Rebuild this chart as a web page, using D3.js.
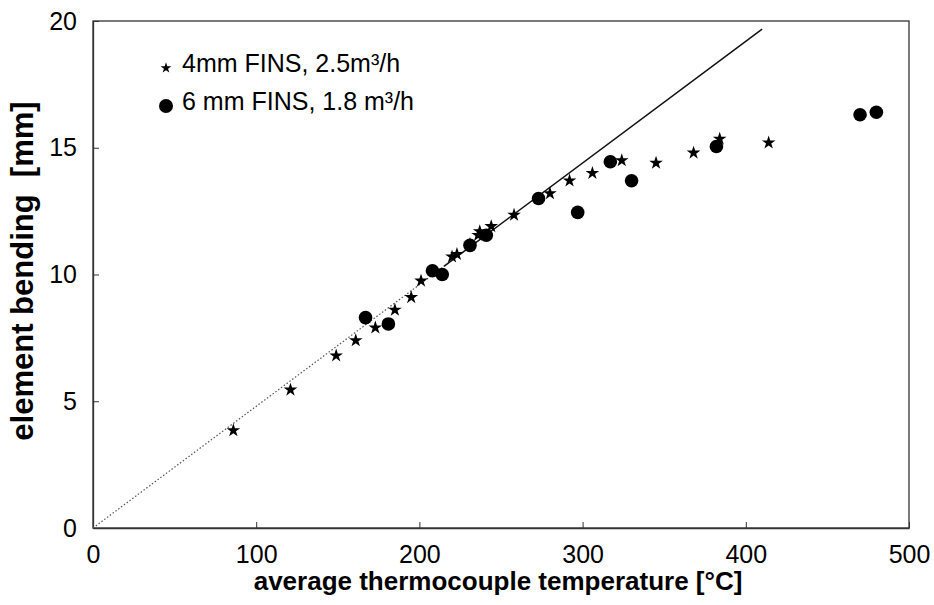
<!DOCTYPE html>
<html>
<head>
<meta charset="utf-8">
<script src="https://cdn.jsdelivr.net/npm/d3@7"></script>
<style>
    body { margin: 0; background: #fff; }
    svg text { font-family: "Liberation Sans", Arial, sans-serif; fill: #000; }
</style>
</head>
<body>
<div id="chart"></div>
<script>
// 4mm fins, 2.5 m3/h  (stars)
var fins4Temp = [86, 121, 149, 161, 173, 185, 195, 201, 220, 223, 231, 236, 237, 244, 258, 280, 292, 306, 324, 345, 368, 384, 414];
var fins4Bend = [3.85, 5.45, 6.8, 7.4, 7.9, 8.6, 9.1, 9.75, 10.7, 10.8, 11.2, 11.55, 11.7, 11.9, 12.35, 13.2, 13.7, 14.0, 14.5, 14.4, 14.8, 15.35, 15.2];

// 6mm fins, 1.8 m3/h  (circles)
var fins6Temp = [167, 181, 208, 214, 231, 241, 273, 297, 317, 330, 382, 470, 480];
var fins6Bend = [8.3, 8.05, 10.15, 10.0, 11.15, 11.55, 13.0, 12.45, 14.45, 13.7, 15.05, 16.3, 16.4];

// reference line: bending = slope * temperature
var lineSlope = 0.048;
var lineDottedEnd = 215;
var lineEnd = 410;

var xTicks = [0, 100, 200, 300, 400, 500];
var yTicks = [0, 5, 10, 15, 20];

var legendLabels = ["4mm FINS, 2.5m\u00b3/h", "6 mm FINS, 1.8 m\u00b3/h"];

var width = 934, height = 605;
var margin = { left: 93, right: 25, top: 21, bottom: 77 };

var svg = d3.select("#chart")
    .append("svg")
    .attr("width", width)
    .attr("height", height);

var xScale = d3.scaleLinear().domain([0, 500]).range([margin.left, width - margin.right]);
var yScale = d3.scaleLinear().domain([0, 20]).range([height - margin.bottom, margin.top]);

// frame
svg.append("rect")
    .attr("x", xScale(0))
    .attr("y", yScale(20))
    .attr("width", xScale(500) - xScale(0))
    .attr("height", yScale(0) - yScale(20))
    .attr("fill", "none")
    .attr("stroke", "#333")
    .attr("stroke-width", 1.3);

// X axis, ticks pointing inward
var xAxis = svg.append("g")
    .attr("transform", "translate(0," + yScale(0) + ")")
    .call(d3.axisBottom(xScale).tickValues(xTicks).tickSizeInner(-6).tickSizeOuter(0).tickPadding(17));
xAxis.select(".domain").attr("stroke", "#333").attr("stroke-width", 1.3);
xAxis.selectAll("line").attr("stroke", "#333");
xAxis.selectAll("text").style("font-size", "25px");

// Y axis
var yAxis = svg.append("g")
    .attr("transform", "translate(" + xScale(0) + ",0)")
    .call(d3.axisLeft(yScale).tickValues(yTicks).tickSizeInner(-6).tickSizeOuter(0).tickPadding(16));
yAxis.select(".domain").attr("stroke", "#333").attr("stroke-width", 1.3);
yAxis.selectAll("line").attr("stroke", "#333");
yAxis.selectAll("text").style("font-size", "25px");

// axis titles
svg.append("text")
    .attr("x", 498)
    .attr("y", 590)
    .attr("text-anchor", "middle")
    .style("font-size", "26px")
    .style("font-weight", "bold")
    .text("average thermocouple temperature [\u00b0C]");

svg.append("text")
    .attr("transform", "rotate(-90)")
    .attr("x", -271)
    .attr("y", 33)
    .attr("text-anchor", "middle")
    .style("font-size", "31px")
    .style("font-weight", "bold")
    .style("white-space", "pre")
    .text("element bending  [mm]");

// reference line: dotted lower part, solid upper part
var line = d3.line()
    .x(function (d) { return xScale(d); })
    .y(function (d) { return yScale(d * lineSlope); });

svg.append("path")
    .attr("d", line([0, lineDottedEnd]))
    .attr("fill", "none")
    .attr("stroke", "#555")
    .attr("stroke-width", 1.2)
    .attr("stroke-dasharray", "1.5,2");

svg.append("path")
    .attr("d", line([lineDottedEnd, lineEnd]))
    .attr("fill", "none")
    .attr("stroke", "#111")
    .attr("stroke-width", 1.5);

// stars
var star = d3.symbol().type(d3.symbolStar).size(58);
svg.selectAll("path.star")
    .data(fins4Temp)
    .enter()
    .append("path")
    .attr("class", "star")
    .attr("d", star)
    .attr("transform", function (d, i) {
        return "translate(" + xScale(d) + "," + yScale(fins4Bend[i]) + ")";
    })
    .attr("fill", "#000");

// circles
svg.selectAll("circle.dot")
    .data(fins6Temp)
    .enter()
    .append("circle")
    .attr("class", "dot")
    .attr("cx", function (d) { return xScale(d); })
    .attr("cy", function (d, i) { return yScale(fins6Bend[i]); })
    .attr("r", 6.8)
    .attr("fill", "#000");

// legend
svg.append("path")
    .attr("d", d3.symbol().type(d3.symbolStar).size(36)())
    .attr("transform", "translate(166,68)")
    .attr("fill", "#000");
svg.append("circle")
    .attr("cx", 166)
    .attr("cy", 106)
    .attr("r", 7)
    .attr("fill", "#000");

svg.selectAll("text.legend")
    .data(legendLabels)
    .enter()
    .append("text")
    .attr("class", "legend")
    .attr("x", 182)
    .attr("y", function (d, i) { return 72 + i * 38; })
    .style("font-size", "25px")
    .text(function (d) { return d; });
</script>
</body>
</html>
